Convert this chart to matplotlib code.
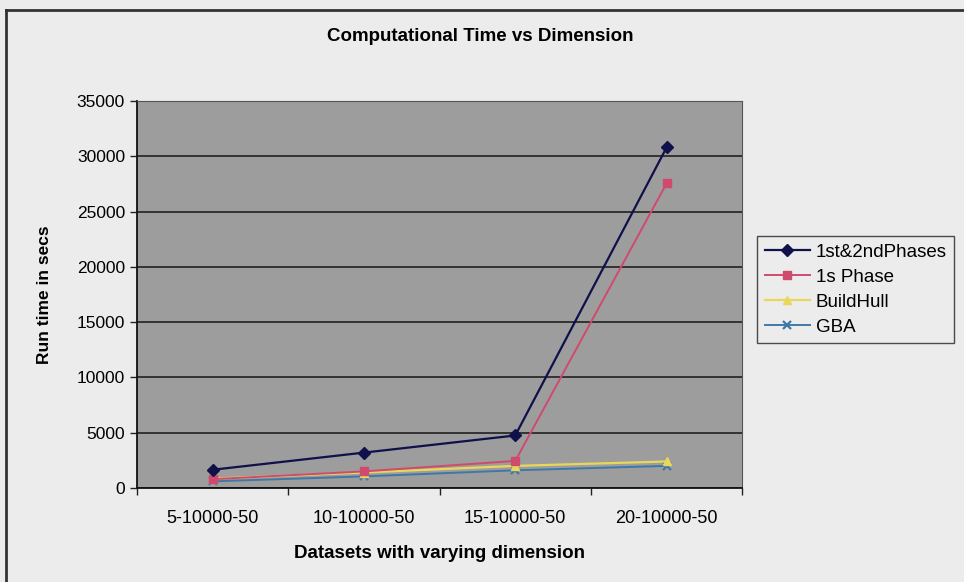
import matplotlib.pyplot as plt
from matplotlib.lines import Line2D

# data
datasets = ["5-10000-50", "10-10000-50", "15-10000-50", "20-10000-50"]
both_phases = [1650, 3200, 4750, 30800]
first_phase = [800, 1500, 2450, 27550]
build_hull = [850, 1400, 2000, 2400]
gba = [600, 1050, 1600, 2000]
y_ticks = [0, 5000, 10000, 15000, 20000, 25000, 30000, 35000]

plt.rcParams["font.family"] = ["Liberation Sans", "DejaVu Sans"]

fig = plt.figure(figsize=(9.64, 5.82), dpi=100, facecolor="#ececec")
ax = fig.add_axes([0.142, 0.1615, 0.628, 0.665])
ax.set_facecolor("#9d9d9d")

x = list(range(len(datasets)))
ax.plot(x, both_phases, color="#10104a", lw=1.6, marker="D", ms=6,
        label="1st&2ndPhases", zorder=5)
ax.plot(x, first_phase, color="#d04a6e", lw=1.4, marker="s", ms=6,
        label="1s Phase", zorder=4)
ax.plot(x, build_hull, color="#e8d85a", lw=1.6, marker="^", ms=6,
        label="BuildHull", zorder=3)
ax.plot(x, gba, color="#3f78a8", lw=1.4, marker="x", ms=6, mew=1.6,
        label="GBA", zorder=2)

ax.set_xlim(-0.5, 3.5)
ax.set_ylim(0, 35000)
ax.set_yticks(y_ticks)
ax.set_yticklabels([str(v) for v in y_ticks], fontsize=12.5)
ax.set_xticks([-0.5, 0.5, 1.5, 2.5, 3.5])
ax.set_xticklabels([])
ax.set_xticks(x, minor=True)
ax.set_xticklabels(datasets, minor=True, fontsize=13)
ax.tick_params(axis="x", which="minor", length=0, pad=16)
ax.tick_params(axis="both", which="major", direction="out", length=5,
               color="#222222", width=1)
ax.grid(axis="y", color="#2a2a2a", lw=1.3)
ax.set_axisbelow(True)
for side in ["top", "right"]:
    ax.spines[side].set_color("#555555")
for side in ["left", "bottom"]:
    ax.spines[side].set_color("#111111")
    ax.spines[side].set_linewidth(1.3)

fig.suptitle("Computational Time vs Dimension", x=0.498, y=0.952,
             fontsize=13.5, fontweight="bold")
ax.set_xlabel("Datasets with varying dimension", fontsize=13.5,
              fontweight="bold", labelpad=13)
ax.set_ylabel("Run time in secs", fontsize=12.5, fontweight="bold", labelpad=18)

leg = fig.legend(loc="upper left", bbox_to_anchor=(0.776, 0.61),
                 fontsize=13.5, frameon=True, fancybox=False,
                 facecolor="#ececec", edgecolor="#222222", borderpad=0.4,
                 labelspacing=0.42, handlelength=2.4, handletextpad=0.3)
leg.get_frame().set_linewidth(1.0)

# outer chart border (top and left edges visible)
fig.add_artist(Line2D([0.0065, 1.0], [0.983, 0.983], color="#333333", lw=2))
fig.add_artist(Line2D([0.0065, 0.0065], [0.0, 0.983], color="#333333", lw=2))

fig.savefig("out.png", dpi=100, facecolor=fig.get_facecolor())
